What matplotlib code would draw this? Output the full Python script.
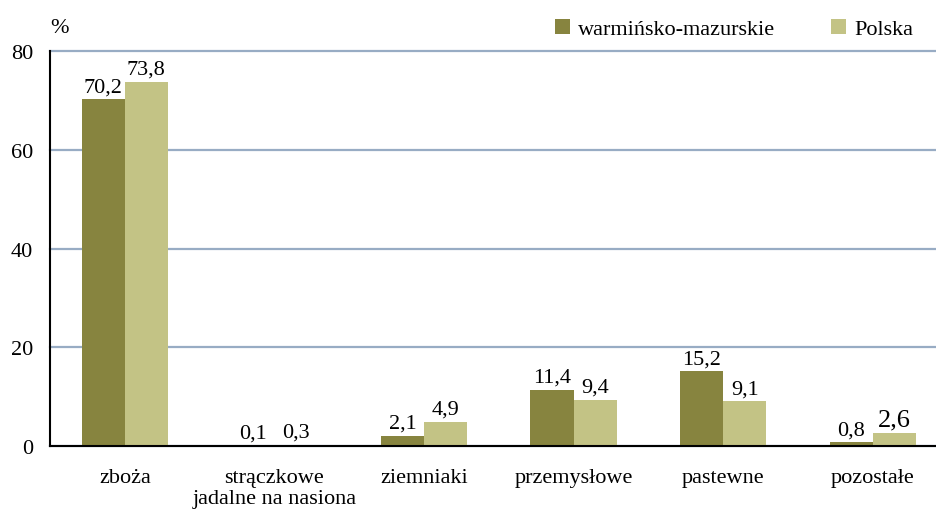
import numpy as np
import matplotlib.pyplot as plt

plt.rcParams['font.family'] = ['Liberation Serif', 'DejaVu Serif']

# data
categories = ['zboża', 'strączkowe\njadalne na nasiona', 'ziemniaki',
              'przemysłowe', 'pastewne', 'pozostałe']
region = [70.2, 0.1, 2.1, 11.4, 15.2, 0.8]
poland = [73.8, 0.3, 4.9, 9.4, 9.1, 2.6]
series_names = ['warmińsko-mazurskie', 'Polska']

dark = '#87843f'
light = '#c3c385'
grid_col = '#98acc4'

fig = plt.figure(figsize=(9.37, 5.10), dpi=100)
ax = fig.add_axes([0.0534, 0.1235, 0.9466, 0.7745])

x = np.arange(len(categories))
w = 0.288
b1 = ax.bar(x - w / 2, region, w, color=dark, label=series_names[0], zorder=3)
b2 = ax.bar(x + w / 2, poland, w, color=light, label=series_names[1], zorder=3)

fmt = lambda v: f'{v:.1f}'.replace('.', ',')
ax.bar_label(b1, labels=[fmt(v) for v in region], padding=2, fontsize=16)
lbls = ax.bar_label(b2, labels=[fmt(v) for v in poland], padding=2, fontsize=16)
lbls[-1].set_fontsize(19)

ax.set_xlim(-0.5, 5.43)
ax.set_ylim(0, 80)
ax.set_yticks([0, 20, 40, 60, 80])
ax.set_xticks(x)
ax.set_xticklabels(categories, fontsize=16, linespacing=1.15)
ax.tick_params(axis='y', length=0, pad=12, labelsize=16)
ax.tick_params(axis='x', length=0, pad=16)

ax.yaxis.grid(True, color=grid_col, linewidth=1.6, zorder=0)
for gl in ax.get_ygridlines():
    gl.set_clip_on(False)
ax.set_axisbelow(True)
for s in ['top', 'right']:
    ax.spines[s].set_visible(False)
ax.spines['left'].set_linewidth(1.5)
ax.spines['bottom'].set_linewidth(1.5)
ax.spines['left'].set_zorder(4)
ax.spines['bottom'].set_zorder(4)

fig.text(0.064, 0.945, '%', fontsize=16, ha='center', va='center')

ax.legend(loc='center', bbox_to_anchor=(0.771, 1.056), ncol=2, frameon=False,
          fontsize=16, handlelength=0.7, handleheight=0.7, handletextpad=0.35,
          columnspacing=2.5, borderpad=0)

fig.savefig('out.png', dpi=100)
